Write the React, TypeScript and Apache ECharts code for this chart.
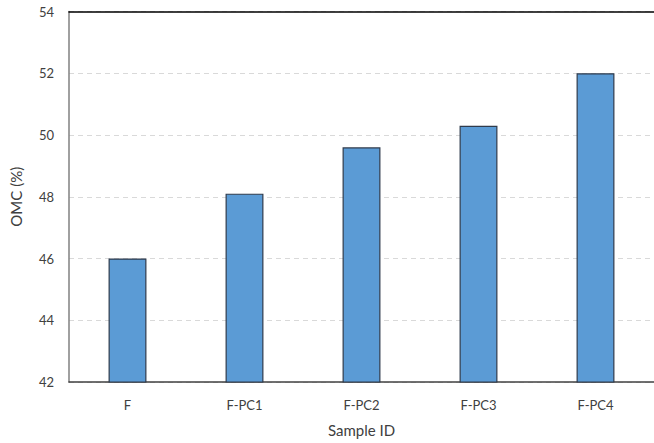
import React, { useEffect, useRef } from "react";
import * as echarts from "echarts";

const categories = ["F", "F-PC1", "F-PC2", "F-PC3", "F-PC4"];
const omcValues = [46.0, 48.1, 49.6, 50.3, 52.0];
const yMin = 42;
const yMax = 54;
const yStep = 2;

export default function App() {
  const ref = useRef<HTMLDivElement>(null);
  useEffect(() => {
    if (!ref.current) return;
    const chart = echarts.init(ref.current, null, { renderer: "svg" });
    const font = "Lato, 'Open Sans', sans-serif";
    chart.setOption({
      animation: false,
      backgroundColor: "#ffffff",
      grid: { left: 63, width: 594, top: 11.5, height: 370.5, containLabel: false },
      xAxis: [
        {
          type: "category",
          data: categories,
          axisLine: { show: true, lineStyle: { color: "#404040", width: 1.5 } },
          axisTick: { show: false },
          axisLabel: { color: "#404040", fontSize: 13, fontFamily: font, margin: 16 },
          name: "Sample ID",
          nameLocation: "middle",
          nameGap: 40,
          nameTextStyle: { color: "#404040", fontSize: 15, fontFamily: font },
        },
        {
          type: "category",
          data: categories,
          position: "top",
          axisLine: { show: true, lineStyle: { color: "#000000", width: 1.5 } },
          axisTick: { show: false },
          axisLabel: { show: false },
        },
      ],
      yAxis: {
        type: "value",
        min: yMin,
        max: yMax,
        interval: yStep,
        axisLine: { show: true, lineStyle: { color: "#808080", width: 1.5 } },
        axisTick: { show: false },
        axisLabel: { color: "#404040", fontSize: 13, fontFamily: font, margin: 15 },
        splitLine: { show: true, lineStyle: { color: "#d9d9d9", type: [5, 4], width: 1 } },
        name: "OMC (%)",
        nameLocation: "middle",
        nameGap: 46,
        nameTextStyle: { color: "#404040", fontSize: 15, fontFamily: font },
      },
      series: [
        {
          type: "bar",
          data: omcValues,
          barWidth: "32.4%",
          itemStyle: { color: "#5b9bd5", borderColor: "#2f3b4c", borderWidth: 1.2 },
        },
      ],
    });
    return () => chart.dispose();
  }, []);
  return (
    <div
      ref={ref}
      style={{ position: "fixed", left: 0, top: 0, width: 654, height: 443 }}
    />
  );
}
